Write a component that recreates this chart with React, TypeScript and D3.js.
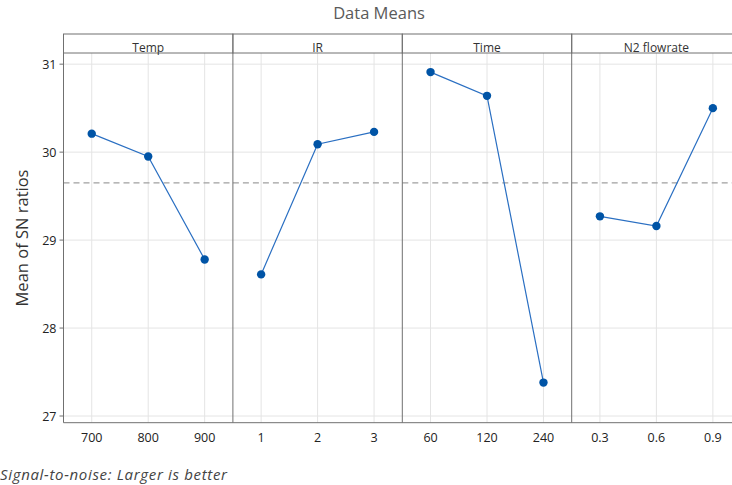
import React from "react";
import * as d3 from "d3";

const factors = ["Temp", "IR", "Time", "N2 flowrate"];
const levels = [
  ["700", "800", "900"],
  ["1", "2", "3"],
  ["60", "120", "240"],
  ["0.3", "0.6", "0.9"],
];
const means = [
  [30.21, 29.95, 28.78],
  [28.61, 30.09, 30.23],
  [30.91, 30.64, 27.38],
  [29.27, 29.16, 30.5],
];
const grandMean = 29.65;
const yTicks = [27, 28, 29, 30, 31];

export default function App() {
  const W = 732, H = 485;
  const left = 63.5, panelW = 169.4, stripTop = 34, stripBottom = 53, bottom = 422.7;
  const y = d3.scaleLinear().domain([26.924, 31.127]).range([bottom, stripBottom]);
  const font = "'Segoe UI', 'Open Sans', 'Noto Sans', sans-serif";
  const lineGen = d3.line<[number, number]>().x(d => d[0]).y(d => d[1]);
  return (
    <div style={{ position: "absolute", left: 0, top: 0 }}>
      <svg width={W} height={H} style={{ display: "block", background: "#fff" }} fontFamily={font}>
        <text x={379} y={18.5} textAnchor="middle" fontSize={16.5} fill="#5a5a5a">Data Means</text>
        <text transform={`translate(27.5,${238}) rotate(-90)`} textAnchor="middle" fontSize={16.5} fill="#333">Mean of SN ratios</text>
        <text x={0} y={480} fontSize={15} fontStyle="italic" fill="#444" textLength={227} lengthAdjust="spacing">Signal-to-noise: Larger is better</text>
        {factors.map((f, i) => {
          const x0 = left + i * panelW;
          const x = d3.scalePoint<string>().domain(levels[i]).range([x0, x0 + panelW]).padding(0.5);
          const pts: [number, number][] = levels[i].map((l, j) => [x(l)!, y(means[i][j])]);
          return (
            <g key={f}>
              {yTicks.map(t => (
                <line key={t} x1={x0} x2={x0 + panelW} y1={y(t)} y2={y(t)} stroke="#e4e4e4" strokeWidth={1} />
              ))}
              {levels[i].map(l => (
                <line key={l} x1={x(l)} x2={x(l)} y1={stripBottom} y2={bottom} stroke="#e4e4e4" strokeWidth={1} />
              ))}
              <line x1={x0} x2={x0 + panelW} y1={y(grandMean)} y2={y(grandMean)} stroke="#a0a0a0" strokeWidth={1.2} strokeDasharray="6,4" />
              <path d={lineGen(pts)!} fill="none" stroke="#2a6fc2" strokeWidth={1.2} />
              {pts.map((p, j) => (
                <circle key={j} cx={p[0]} cy={p[1]} r={4.2} fill="#0054a6" />
              ))}
              {levels[i].map(l => (
                <text key={l} x={x(l)} y={442} textAnchor="middle" fontSize={12.5} fill="#222">{l}</text>
              ))}
              <rect x={x0} y={stripTop} width={panelW} height={stripBottom - stripTop} fill="none" stroke="#707070" strokeWidth={1} />
              <text x={x0 + panelW / 2} y={52} textAnchor="middle" fontSize={12} fill="#333">{f}</text>
              <line x1={x0} x2={x0} y1={stripBottom} y2={bottom} stroke="#707070" strokeWidth={1} />
            </g>
          );
        })}
        <line x1={left} x2={left + 4 * panelW} y1={bottom} y2={bottom} stroke="#707070" strokeWidth={1} />
        {yTicks.map(t => (
          <g key={t}>
            <line x1={left - 4} x2={left} y1={y(t)} y2={y(t)} stroke="#707070" />
            <text x={left - 7} y={y(t) + 4.5} textAnchor="end" fontSize={12.5} fill="#222">{t}</text>
          </g>
        ))}
      </svg>
    </div>
  );
}
